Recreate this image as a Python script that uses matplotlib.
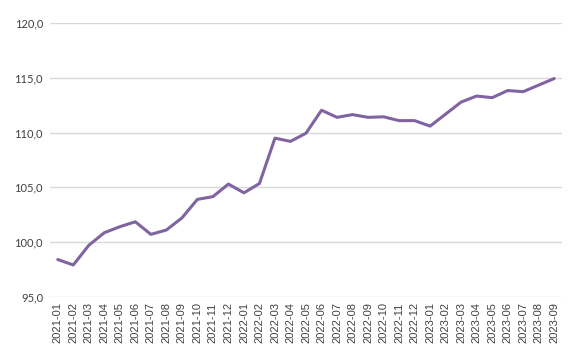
import matplotlib.pyplot as plt
import matplotlib.ticker as mticker

# monthly index values, 2021-01 .. 2023-09
months = ["2021-01", "2021-02", "2021-03", "2021-04", "2021-05", "2021-06",
          "2021-07", "2021-08", "2021-09", "2021-10", "2021-11", "2021-12",
          "2022-01", "2022-02", "2022-03", "2022-04", "2022-05", "2022-06",
          "2022-07", "2022-08", "2022-09", "2022-10", "2022-11", "2022-12",
          "2023-01", "2023-02", "2023-03", "2023-04", "2023-05", "2023-06",
          "2023-07", "2023-08", "2023-09"]
values = [98.4, 97.9, 99.7, 100.85, 101.4, 101.85,
          100.7, 101.1, 102.2, 103.9, 104.15, 105.3,
          104.5, 105.35, 109.5, 109.2, 109.95, 112.05,
          111.4, 111.65, 111.4, 111.45, 111.1, 111.1,
          110.6, 111.7, 112.8, 113.35, 113.2, 113.85,
          113.75, 114.35, 114.95]
y_ticks = [95, 100, 105, 110, 115, 120]

fig = plt.figure(figsize=(5.8, 3.59), dpi=100)
ax = fig.add_axes([50 / 580, 1 - 296.7 / 359, 512 / 580, 273.4 / 359])

x = list(range(len(months)))
ax.plot(x, values, color="#8064A2", linewidth=2.2, solid_capstyle="round", zorder=3)

ax.set_xlim(-0.5, len(months) - 0.5)
ax.set_ylim(95, 120)
ax.set_yticks(y_ticks)
ax.yaxis.set_major_formatter(mticker.FuncFormatter(lambda v, p: f"{v:.1f}".replace(".", ",")))
ax.set_xticks(x)
ax.set_xticklabels(months, rotation=90, fontsize=8, family="Liberation Sans", color="#404040")
for lbl in ax.get_yticklabels():
    lbl.set_family("Lato")
    lbl.set_fontsize(8)
    lbl.set_color("#404040")

ax.grid(axis="y", color="#d9d9d9", linewidth=1)
ax.set_axisbelow(True)
for s in ax.spines.values():
    s.set_visible(False)
ax.tick_params(axis="both", length=0)
ax.tick_params(axis="x", pad=4)
ax.tick_params(axis="y", pad=5)

fig.savefig("out.png", dpi=100)
plt.close(fig)
